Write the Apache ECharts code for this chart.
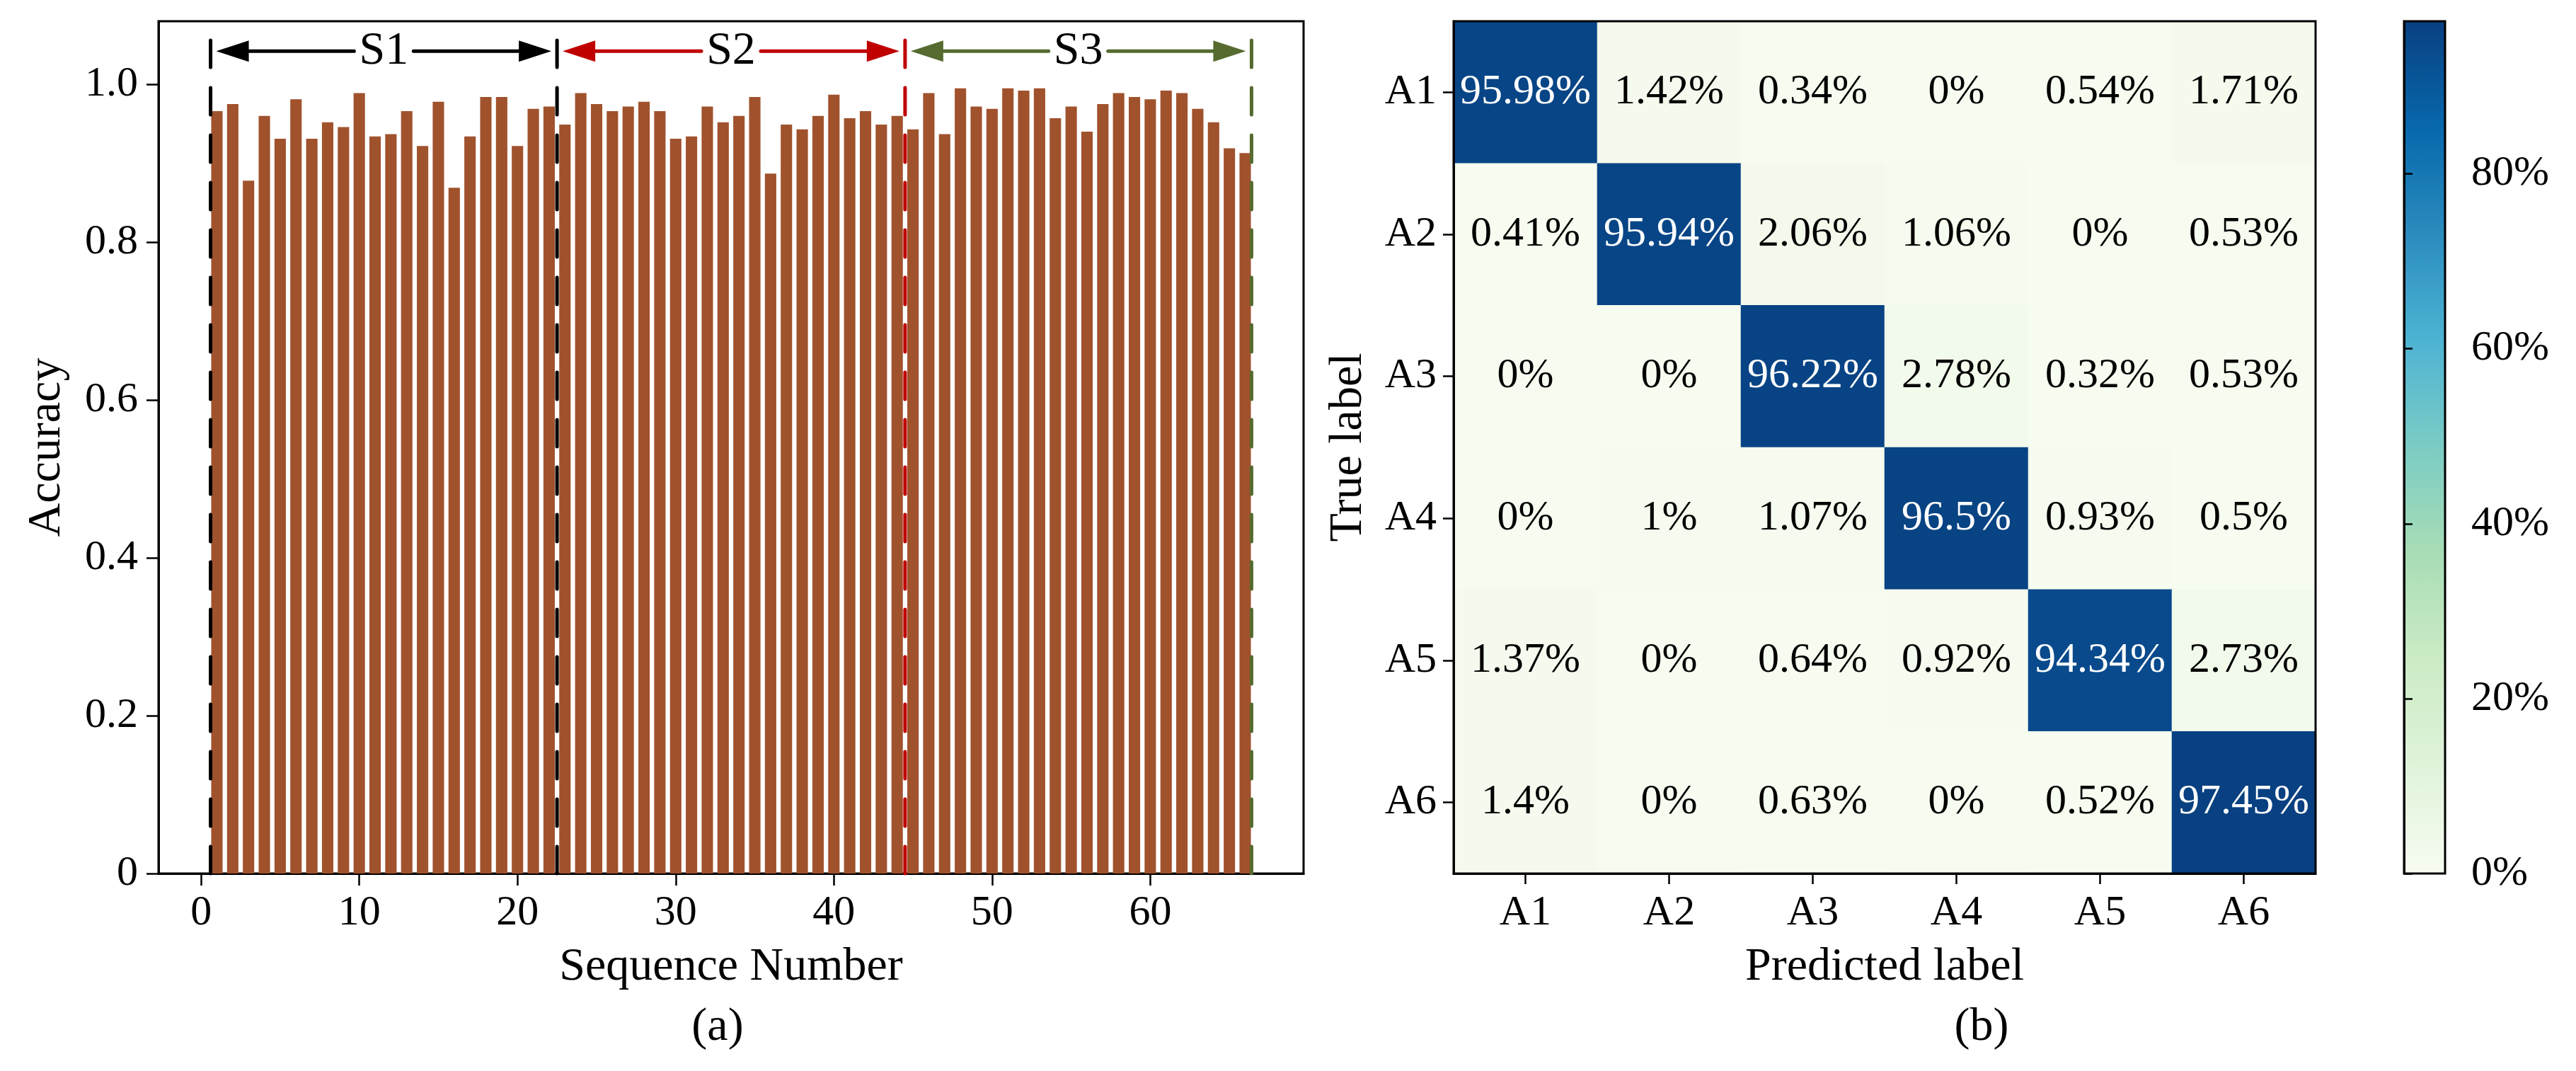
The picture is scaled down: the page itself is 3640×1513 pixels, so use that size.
<!DOCTYPE html>
<html><head><meta charset="utf-8">
<script src="https://cdn.jsdelivr.net/npm/echarts@6/dist/echarts.min.js"></script>
<style>html,body{margin:0;padding:0;background:#fff}#c{width:3640px;height:1513px}</style>
</head><body><div id="c"></div>
<script>
// ---------- data ----------
const seqAccuracy = [
  0.966,0.975,0.878,0.960,0.931,0.981,0.931,0.952,0.946,0.989,
  0.934,0.937,0.966,0.922,0.978,0.869,0.934,0.984,0.984,0.922,
  0.969,0.972,0.949,0.989,0.975,0.966,0.972,0.978,0.966,0.931,
  0.934,0.972,0.952,0.960,0.984,0.887,0.949,0.943,0.960,0.987,
  0.957,0.966,0.949,0.960,0.943,0.989,0.937,0.995,0.972,0.969,
  0.995,0.992,0.995,0.957,0.972,0.940,0.975,0.989,0.984,0.981,
  0.992,0.989,0.969,0.952,0.919,0.913
];
const xTickValues = [0,10,20,30,40,50,60];
const yTickValues = [0,0.2,0.4,0.6,0.8,1.0];
const segLabels = ['S1','S2','S3'];
const segBounds = [0.6,22.5,44.5,66.4];
const segColors = ['#000000','#c00000','#556b2f'];
const classLabels = ['A1','A2','A3','A4','A5','A6'];
const confusion = [
  [95.98,1.42,0.34,0,0.54,1.71],
  [0.41,95.94,2.06,1.06,0,0.53],
  [0,0,96.22,2.78,0.32,0.53],
  [0,1,1.07,96.5,0.93,0.5],
  [1.37,0,0.64,0.92,94.34,2.73],
  [1.4,0,0.63,0,0.52,97.45]
];
const colorbarTicks = [0,20,40,60,80];
const GnBu = ['#f7fcf0','#e0f3db','#ccebc5','#a8ddb5','#7bccc4','#4eb3d3','#2b8cbe','#0868ac','#084081'];

// ---------- build ----------
const FONT = '"Liberation Serif", "Times New Roman", serif';
const cmax = Math.max(...confusion.flat());
const barData = seqAccuracy.map((v,i)=>[i+1,v]);
const heatData = [];
confusion.forEach((row,i)=>row.forEach((v,j)=>{
  heatData.push({value:[j,i,v], label:{color: v>50?'#ffffff':'#000000'}});
}));
const segData = segLabels.map((s,i)=>[segBounds[i],segBounds[i+1],i]);

const G0 = {left:224, top:30, width:1618, height:1204};
const G1 = {left:2054, top:30, width:1218, height:1204};
const G2 = {left:3397, top:30, width:58, height:1204};

const chart = echarts.init(document.getElementById('c'), null, {renderer:'canvas'});
const axisLineStyle = {color:'#000', width:3};
const frameRect = g => ({type:'rect', z:100, silent:true,
  shape:{x:g.left, y:g.top, width:g.width, height:g.height},
  style:{fill:'none', stroke:'#000', lineWidth:3}});

const option = {
  backgroundColor:'#ffffff',
  animation:false,
  textStyle:{fontFamily:FONT, color:'#000'},
  grid:[
    Object.assign({show:true, borderColor:'#000', borderWidth:3, backgroundColor:'transparent'}, G0),
    Object.assign({show:false}, G1),
    Object.assign({show:false}, G2)
  ],
  xAxis:[
    {gridIndex:0, type:'value', min:-2.69, max:69.69,
     axisLine:{show:true, onZero:false, lineStyle:axisLineStyle},
     axisTick:{show:true, length:17, lineStyle:{color:'#000', width:2.5}, customValues:xTickValues},
     axisLabel:{fontSize:60, fontFamily:FONT, color:'#000', margin:26, customValues:xTickValues},
     splitLine:{show:false},
     name:'Sequence Number', nameLocation:'middle', nameGap:100,
     nameTextStyle:{fontSize:66, fontFamily:FONT, color:'#000'}},
    {gridIndex:1, type:'category', data:classLabels, z:10,
     axisLine:{show:true, lineStyle:axisLineStyle},
     axisTick:{show:true, alignWithLabel:true, length:15, lineStyle:{color:'#000', width:2.5}},
     axisLabel:{fontSize:60, fontFamily:FONT, color:'#000', margin:26},
     splitLine:{show:false}, splitArea:{show:false},
     name:'Predicted label', nameLocation:'middle', nameGap:100,
     nameTextStyle:{fontSize:66, fontFamily:FONT, color:'#000'}},
    {gridIndex:2, type:'value', min:0, max:1, show:false}
  ],
  yAxis:[
    {gridIndex:0, type:'value', min:0, max:1.08,
     axisLine:{show:true, onZero:false, lineStyle:axisLineStyle},
     axisTick:{show:true, length:17, lineStyle:{color:'#000', width:2.5}, customValues:yTickValues},
     axisLabel:{fontSize:60, fontFamily:FONT, color:'#000', margin:29, customValues:yTickValues,
       formatter:v=> v===0 ? '0' : v.toFixed(1)},
     splitLine:{show:false},
     name:'Accuracy', nameLocation:'middle', nameGap:124, nameRotate:90,
     nameTextStyle:{fontSize:66, fontFamily:FONT, color:'#000'}},
    {gridIndex:1, type:'category', data:classLabels, inverse:true, z:10,
     axisLine:{show:true, lineStyle:axisLineStyle},
     axisTick:{show:true, alignWithLabel:true, length:15, lineStyle:{color:'#000', width:2.5}},
     axisLabel:{fontSize:60, fontFamily:FONT, color:'#000', margin:24},
     splitLine:{show:false}, splitArea:{show:false},
     name:'True label', nameLocation:'middle', nameGap:115, nameRotate:90,
     nameTextStyle:{fontSize:66, fontFamily:FONT, color:'#000'}},
    {gridIndex:2, type:'value', min:0, max:cmax, position:'right', z:10,
     axisLine:{show:true, lineStyle:axisLineStyle},
     axisTick:{show:true, length:12, lineStyle:{color:'#000', width:2.5}, customValues:colorbarTicks},
     axisLabel:{fontSize:60, fontFamily:FONT, color:'#000', margin:37, customValues:colorbarTicks,
       formatter:v=>v+'%'},
     splitLine:{show:false}}
  ],
  visualMap:{type:'continuous', show:false, min:0, max:cmax, seriesIndex:2, inRange:{color:GnBu}},
  series:[
    {type:'bar', xAxisIndex:0, yAxisIndex:0, data:barData, barWidth:'72%',
     itemStyle:{color:'#a0522d'}, z:1},
    {type:'custom', xAxisIndex:0, yAxisIndex:0, data:segData, z:5,
     renderItem:(params, api)=>{
       const a = api.value(0), b = api.value(1), i = api.value(2);
       const color = segColors[i];
       const yA = 1.042;
       const pA = api.coord([a,yA]), pB = api.coord([b,yA]);
       const y = pA[1];
       const mid = (pA[0]+pB[0])/2;
       const tip = 8, headL = 46, headW = 15, gap = 42;
       const children = [];
       const dashed = (x, col)=>{
         const bot = api.coord([x,0]), top = api.coord([x,1.06]);
         children.push({type:'line', shape:{x1:bot[0],y1:bot[1],x2:top[0],y2:top[1]},
           style:{stroke:col, lineWidth:5, lineDash:[38,29], lineCap:'round'}});
       };
       if (i===0) dashed(a, segColors[0]);
       dashed(b, color);
       const lt = pA[0]+tip, rt = pB[0]-tip;
       children.push({type:'line', shape:{x1:mid-gap,y1:y,x2:lt+headL-4,y2:y}, style:{stroke:color,lineWidth:5,lineCap:'round'}});
       children.push({type:'polygon', shape:{points:[[lt,y],[lt+headL,y-headW],[lt+headL,y+headW]]}, style:{fill:color}});
       children.push({type:'line', shape:{x1:mid+gap,y1:y,x2:rt-headL+4,y2:y}, style:{stroke:color,lineWidth:5,lineCap:'round'}});
       children.push({type:'polygon', shape:{points:[[rt,y],[rt-headL,y-headW],[rt-headL,y+headW]]}, style:{fill:color}});
       children.push({type:'text', style:{text:segLabels[i], x:mid, y:y, align:'center', verticalAlign:'middle',
         font:'66px ' + FONT, fill:'#000'}});
       return {type:'group', children};
     }},
    {type:'heatmap', xAxisIndex:1, yAxisIndex:1, data:heatData, z:1,
     label:{show:true, fontSize:60, fontFamily:FONT, formatter:p=>p.value[2]+'%'},
     itemStyle:{borderWidth:0}, emphasis:{disabled:true}},
    {type:'custom', xAxisIndex:2, yAxisIndex:2, data:[[0,0,1,cmax]], z:1,
     renderItem:(params, api)=>{
       const p0 = api.coord([api.value(0), api.value(1)]);
       const p1 = api.coord([api.value(2), api.value(3)]);
       const stops = GnBu.map((c,k)=>({offset:k/(GnBu.length-1), color:c}));
       return {type:'rect', shape:{x:p0[0], y:p1[1], width:p1[0]-p0[0], height:p0[1]-p1[1]},
         style:{fill:new echarts.graphic.LinearGradient(0,1,0,0,stops)}};
     }}
  ],
  graphic:[
    frameRect(G1),
    frameRect(G2),
    {type:'text', x:1014, y:1452, style:{text:'(a)', font:'66px '+FONT, fill:'#000', align:'center', verticalAlign:'middle'}},
    {type:'text', x:2800, y:1452, style:{text:'(b)', font:'66px '+FONT, fill:'#000', align:'center', verticalAlign:'middle'}}
  ]
};
chart.setOption(option);
</script>
</body></html>
